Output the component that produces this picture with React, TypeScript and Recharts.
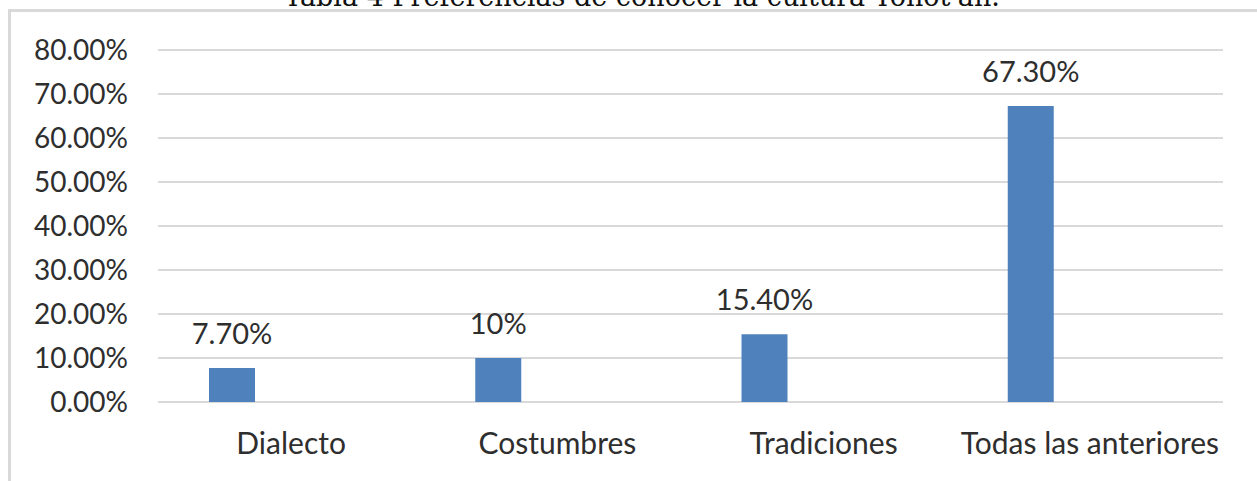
import { BarChart, Bar, XAxis, YAxis, CartesianGrid, LabelList } from 'recharts'

const categories = ['Dialecto', 'Costumbres', 'Tradiciones', 'Todas las anteriores']
const values = [7.7, 10, 15.4, 67.3]
const valueLabels = ['7.70%', '10%', '15.40%', '67.30%']
// the source sheet had an empty second series, which pushes the bars left in each group
const emptySeries = [null, null, null, null]
const yTicks = [0, 10, 20, 30, 40, 50, 60, 70, 80]

const title = "Tabla 4 Preferencias de conocer la cultura Tohot'an."

const data = categories.map((name, i) => ({
  name,
  value: values[i],
  label: valueLabels[i],
  empty: emptySeries[i],
}))

const FONT = 'Lato, "Open Sans", sans-serif'
const TEXT = '#2e2e2e'
const GRID = '#d9d9d9'

export default function App() {
  return (
    <div style={{ position: 'absolute', left: 0, top: 0, width: 1257, height: 481, overflow: 'hidden', background: '#fff' }}>
      <svg width={1257} height={20} style={{ position: 'absolute', left: 0, top: 0 }}>
        <text x={642} y={6} textAnchor="middle" fontFamily='"DejaVu Serif", serif' fontSize={27} fill="#111">
          {title}
        </text>
      </svg>
      <div
        style={{
          position: 'absolute', left: 8, top: 9, width: 1400, height: 600,
          borderLeft: `3px solid ${GRID}`, borderTop: `3px solid ${GRID}`,
        }}
      />
      <div style={{ position: 'absolute', left: 0, top: 0 }}>
        <BarChart
          width={1257}
          height={481}
          data={data}
          margin={{ top: 50, right: 34, bottom: 19, left: 8 }}
          barGap={72}
          barSize={46}
        >
          <CartesianGrid vertical={false} stroke={GRID} strokeWidth={2} />
          <XAxis
            dataKey="name"
            axisLine={false}
            tickLine={false}
            tickSize={0}
            tickMargin={31}
            height={60}
            interval={0}
            tick={{ fontSize: 30, fill: TEXT, fontFamily: FONT }}
          />
          <YAxis
            domain={[0, 80]}
            ticks={yTicks}
            width={150}
            axisLine={false}
            tickLine={false}
            tickSize={0}
            tickMargin={30}
            tickFormatter={v => `${Number(v).toFixed(2)}%`}
            tick={{ fontSize: 28, fill: TEXT, fontFamily: FONT }}
          />
          <Bar dataKey="value" fill="#4f81bd" isAnimationActive={false}>
            <LabelList dataKey="label" position="top" offset={24} fill={TEXT} fontSize={29} fontFamily={FONT} />
          </Bar>
          <Bar dataKey="empty" fill="#c0504d" isAnimationActive={false} />
        </BarChart>
      </div>
    </div>
  )
}
